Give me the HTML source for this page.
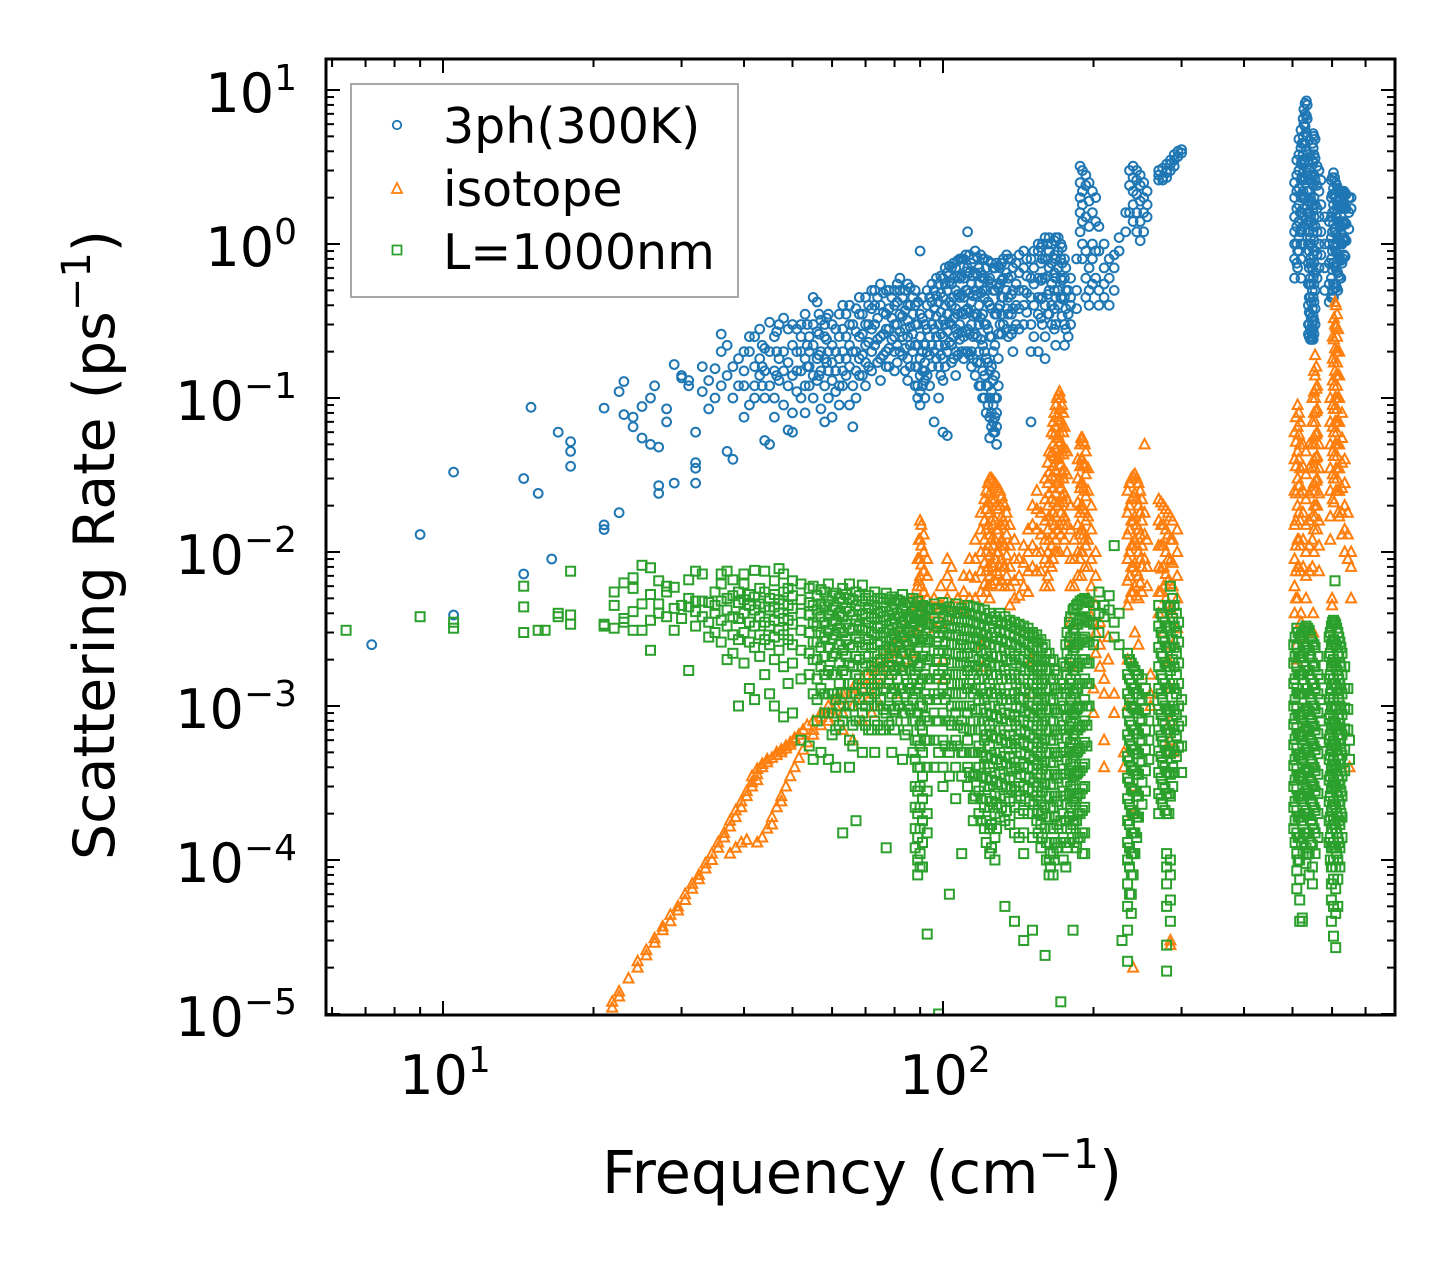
<!DOCTYPE html>
<html><head><meta charset="utf-8"><style>
html,body{margin:0;padding:0;background:#fff;}
svg{display:block;font-family:"DejaVu Sans","Liberation Sans",sans-serif;}
</style></head><body>
<svg id="chart" width="1455" height="1265" viewBox="0 0 1455 1265" xmlns="http://www.w3.org/2000/svg">
<defs><clipPath id="plotclip"><rect x="326" y="59" width="1069" height="956"/></clipPath></defs>
<rect x="0" y="0" width="1455" height="1265" fill="#fff"/>
<g id="marks" clip-path="url(#plotclip)"></g>
<g id="ticks"></g>
<rect x="326" y="59" width="1069" height="956" fill="none" stroke="#000" stroke-width="3"/>
<g id="ylabels" font-size="54" text-anchor="end"></g>
<g id="xlabels" font-size="54" text-anchor="middle"></g>
<text x="862" y="1193" font-size="59" text-anchor="middle">Frequency (cm<tspan font-size="41" dy="-25">−1</tspan><tspan dy="25">)</tspan></text>
<text transform="translate(114,545) rotate(-90)" font-size="57" text-anchor="middle">Scattering Rate (ps<tspan font-size="40" dy="-24">−1</tspan><tspan dy="24">)</tspan></text>
<g>
<rect x="351" y="84" width="387" height="213" fill="#fff" fill-opacity="0.8" stroke="#a8a8a8" stroke-width="2"/>
<g><circle cx="397" cy="125" r="4.2" fill="none" stroke="#1f77b4" stroke-width="1.8"/><text x="443" y="143" font-size="49">3ph(300K)</text></g>
<g><path d="M397,183 L402,193 L392,193 Z" fill="none" stroke="#ff7f0e" stroke-width="1.8"/><text x="443" y="206" font-size="49">isotope</text></g>
<g><rect x="392.5" y="245.5" width="9" height="9" fill="none" stroke="#2ca02c" stroke-width="1.8"/><text x="443" y="269" font-size="49">L=1000nm</text></g>
</g>
</svg>
<script>
const xTickValues = [10, 100];
const xTickExps = ["1", "2"];
const yTickExps = [1, 0, -1, -2, -3, -4, -5];
const yTickLabels = ["1", "0", "−1", "−2", "−3", "−4", "−5"];

const blueColumns = [
[7.2,[0.0025]],[9,[0.013]],[10.5,[0.033,0.0039]],[14.5,[0.0072,0.03]],[15,[0.087]],[15.5,[0.024]],[16.5,[0.009]],[17,[0.06]],[18,[0.052,0.045,0.036]],
[21,[0.086,0.015,0.014]],[22.5,[0.018,0.11]],[23,[0.128,0.078]],[24,[0.075,0.065]],[25,[0.088,0.055]],[26,[0.05,0.1]],[26.5,[0.12]],[27,[0.027,0.048,0.024]],
[28,[0.07,0.085]],[29,[0.028,0.165]],[30,[0.135,0.14]],[31,[0.13,0.12]],[32,[0.06,0.035,0.038,0.028]],[33,[0.11,0.16]],[34,[0.085,0.13]],[35,[0.155,0.1]],
[36,[0.12,0.26,0.2]],[37,[0.22,0.045,0.14]],[38,[0.04,0.16,0.1]],[39,[0.18,0.12]],[40,[0.12,0.075,0.2,0.15]],[41,[0.2,0.25,0.09]],[42,[0.25,0.16,0.12,0.1]],
[43,[0.28,0.18,0.14]],[44,[0.053,0.21,0.15,0.1]],[45,[0.05,0.31,0.2,0.12]],[46,[0.15,0.25,0.1,0.075]],[47,[0.18,0.3,0.13]],[48,[0.33,0.2,0.15,0.09]],
[49,[0.062,0.28,0.17,0.12]],[50,[0.06,0.22,0.3,0.14,0.08]],[52,[0.3,0.2,0.15,0.1,0.25]],[53,[0.08,0.35,0.18,0.12]],[54,[0.12,0.25,0.2,0.16]],
[55,[0.45,0.3,0.22,0.14,0.1]],[56,[0.42,0.27,0.18,0.13]],[57,[0.085,0.32,0.2,0.15]],[58,[0.07,0.25,0.18,0.12,0.3]],[59,[0.2,0.35,0.15,0.1]],
[60,[0.17,0.075,0.3,0.22,0.13]],[62,[0.35,0.25,0.18,0.12,0.09]],[63,[0.12,0.4,0.28,0.2,0.15]],[64,[0.25,0.35,0.18,0.14]],[65,[0.09,0.4,0.3,0.22,0.16]],
[66,[0.065,0.3,0.2,0.12]],[68,[0.18,0.45,0.35,0.25,0.14]],[70,[0.3,0.45,0.22,0.17,0.12]],[72,[0.15,0.5,0.38,0.28,0.2]],[73,[0.5,0.4,0.3,0.22]],
[75,[0.25,0.55,0.4,0.18,0.13]],[77,[0.35,0.5,0.28,0.2,0.16]],[80,[0.2,0.5,0.4,0.3,0.25,0.15]],[82,[0.5,0.6,0.35,0.27,0.2]],[85,[0.4,0.55,0.32,0.25,0.18,0.13]],
[88,[0.3,0.5,0.4,0.22,0.16,0.12]],[90,[0.9,0.35,0.25,0.18,0.14,0.11,0.09]],[92,[0.15,0.3,0.22,0.17,0.13,0.1]],[94,[0.25,0.45,0.35,0.19,0.12]],
[96,[0.07,0.5,0.38,0.28,0.2]],[98,[0.1,0.55,0.42,0.3,0.22,0.16]],[100,[0.06,0.6,0.45,0.32,0.25,0.18,0.13]],[102,[0.057,0.65,0.5,0.35,0.27,0.2]],
[104,[0.4,0.7,0.55,0.3,0.22,0.17]],[106,[0.7,0.5,0.38,0.28,0.2,0.14]],[108,[0.3,0.8,0.6,0.45,0.24]],[110,[0.8,0.6,0.45,0.35,0.25,0.18]],
[112,[1.2,0.7,0.5,0.38,0.28,0.2]],[114,[0.2,0.75,0.55,0.42,0.3,0.16]],[116,[0.9,0.65,0.5,0.35,0.26,0.14]],[118,[0.12,0.7,0.55,0.4,0.3,0.2]],
[120,[0.5,0.8,0.6,0.35,0.22,0.15,0.1]],[122,[0.08,0.7,0.5,0.3,0.18,0.12]],[124,[0.055,0.6,0.4,0.25,0.15,0.1,0.075]],[126,[0.06,0.7,0.5,0.2,0.13,0.09,0.07]],
[128,[0.05,0.75,0.55,0.35,0.1,0.08,0.065]],[130,[0.7,0.55,0.4,0.3]],[132,[0.3,0.8,0.6,0.45]],[135,[0.8,0.6,0.45,0.35,0.25]],[138,[0.7,0.5,0.38,0.28,0.2]],
[140,[0.4,0.75,0.55,0.3]],[145,[0.5,0.7,0.9,0.4,0.3]],[150,[0.07,0.8,0.6,0.45,0.3,0.2]],[152,[0.4,0.9,0.7,0.55,0.25]],[155,[0.6,0.9,1.0,0.45,0.35,0.2]],
[158,[0.8,1.0,0.6,0.45,0.3]],[160,[0.8,1.1,0.6,0.4,0.25,0.18]],[163,[0.9,1.1,0.7,0.5,0.35]],[165,[0.3,1.0,0.75,0.55,0.4]],[168,[1.1,0.8,0.6,0.45,0.3,0.22]],
[170,[1.1,0.9,0.7,0.5,0.4]],[172,[1.0,0.8,0.6,0.45]],[175,[0.3,0.8,0.6,0.45,0.22]],[178,[0.5,0.35,0.25]],[180,[0.6,0.4,0.3,0.45]],[185,[0.8,0.5,0.38]],
[188,[3.2,2.5,2.0,1.6,1.2]],[190,[3.0,2.2,1.8,1.4,1.0,0.8]],[193,[2.8,2.4,1.5,0.9,0.6,0.45]],[196,[2.5,1.9,1.3,0.7,0.5,0.4]],[199,[2.2,1.6,1.0,0.8,0.55]],
[202,[2.0,1.4,0.9,0.6]],[205,[1.3,0.9,0.5,0.4]],[210,[1.0,0.7,0.55,0.45]],[215,[0.8,0.6,0.4]],[220,[0.85,0.7,0.5]],[225,[1.1,0.9]],[232,[1.2,1.6]],
[236,[1.6,2.4,3.0]],[240,[3.2,2.7,2.2,1.8,1.4]],[244,[3.0,2.6,2.1,1.6,1.2]],[248,[2.8,2.4,1.9,1.4,1.05]],[252,[2.5,2.0,1.6,1.2]],[256,[2.2,1.8,1.5]],
[270,[2.6,3.0,2.8]],[275,[2.7,3.1,2.6]],[280,[2.9,3.3,2.7,3.0]],[285,[3.5,3.0,3.3]],[290,[3.5,3.8,3.2]],[295,[4.0,3.7]],[300,[4.1,3.9]],
[505,[2.5,2.0,1.5,1.2,1.0,0.8,0.6]],[510,[3.5,2.8,2.2,1.7,1.3,1.0,0.75]],[515,[4.8,3.8,3.0,2.3,1.8,1.4,1.1,0.9]],[520,[5.5,4.2,3.3,2.6,2.0,1.6,1.25,1.0,0.8,0.6]],
[525,[6.5,5.0,3.8,2.9,2.2,1.7,1.3,1.0]],[530,[8.2,7.0,5.8,4.5,3.5,2.7,2.0]],[535,[8.0,6.5,5.0,3.8,2.9,2.2,1.6]],
[540,[3.0,2.2,1.6,1.2,0.9,0.7,0.55,0.45,0.36,0.3,0.25]],[545,[2.6,1.9,1.4,1.0,0.75,0.55,0.42,0.33,0.27,0.24]],
[550,[5.2,4.2,3.4,2.4,1.7,1.2,0.85,0.6,0.45,0.34,0.28,0.24]],[555,[4.8,3.6,2.6,1.8,1.3,0.9,0.65,0.5,0.38,0.3]],[560,[3.2,2.4,1.7,1.2,0.85,0.6]],
[565,[3.0,2.2,1.5,1.0,0.7]],[570,[2.6,1.8,1.2,0.85]],[580,[1.5,1.0,0.7,0.5]],
[592,[1.4,1.0,0.75,0.55,0.42]],[598,[2.6,2.0,1.5,1.1,0.8,0.6,0.45]],[604,[2.9,2.3,1.8,1.35,1.0,0.75,0.55,0.45]],[610,[2.5,2.0,1.55,1.2,0.9,0.7,0.55]],
[616,[2.3,1.8,1.4,1.1,0.85,0.65,0.5]],[622,[2.2,1.75,1.35,1.05,0.8,0.6]],[628,[2.1,1.7,1.3,1.0,0.75]],[634,[2.2,1.8,1.4,1.1,0.85]],[640,[2.1,1.7,1.35,1.05]],
[648,[2.0,1.6,1.25]],[655,[2.0,1.7]]
];
const blueExtraColumns = [
[43.5,[0.22,0.16,0.12]],[46.5,[0.27,0.2,0.14]],[51,[0.28,0.2,0.15,0.11]],[53.5,[0.3,0.22,0.16]],[56.5,[0.35,0.26,0.19,0.14]],[58.5,[0.33,0.24,0.17]],
[61,[0.28,0.2,0.15,0.11]],[67,[0.38,0.27,0.2,0.15,0.1]],[69,[0.35,0.26,0.19,0.14]],[71,[0.4,0.3,0.23,0.16]],[74,[0.45,0.33,0.24,0.17]],[76,[0.48,0.36,0.26,0.19]],
[78,[0.5,0.38,0.28,0.21,0.16]],[79,[0.45,0.33,0.24]],[81,[0.55,0.42,0.3,0.22,0.17]],[83,[0.45,0.34,0.25,0.19]],[84,[0.5,0.37,0.28,0.21,0.15]],
[86,[0.52,0.4,0.29,0.22,0.16]],[87,[0.45,0.35,0.26,0.2]],[89,[0.42,0.3,0.22,0.16,0.12,0.1]],[91,[0.45,0.33,0.2,0.15,0.12]],[93,[0.5,0.4,0.28,0.2,0.14]],
[95,[0.55,0.42,0.3,0.22,0.16]],[97,[0.6,0.46,0.34,0.25,0.18]],[99,[0.62,0.48,0.36,0.26,0.19,0.14]],[101,[0.7,0.55,0.4,0.3,0.22,0.16]],
[103,[0.72,0.57,0.42,0.31,0.23]],[105,[0.75,0.6,0.45,0.33,0.25,0.18]],[107,[0.78,0.62,0.47,0.35,0.26,0.19]],[109,[0.8,0.62,0.47,0.36,0.27,0.2]],
[111,[0.85,0.66,0.5,0.37,0.27,0.2]],[113,[0.85,0.65,0.48,0.36,0.26,0.19]],[115,[0.8,0.62,0.46,0.34,0.25,0.18]],[117,[0.82,0.63,0.47,0.35,0.25,0.17]],
[119,[0.85,0.65,0.48,0.33,0.24,0.17,0.12]],[121,[0.8,0.6,0.45,0.3,0.2,0.14,0.1]],[123,[0.78,0.58,0.42,0.28,0.17,0.12,0.09]],
[125,[0.75,0.55,0.38,0.25,0.16,0.11,0.08,0.065]],[127,[0.7,0.5,0.35,0.22,0.14,0.1,0.075,0.06]],[129,[0.72,0.52,0.38,0.26,0.18,0.12]],
[131,[0.75,0.58,0.45,0.35,0.26]],[134,[0.85,0.65,0.5,0.38,0.28]],[137,[0.8,0.62,0.47,0.35,0.26]],[142,[0.85,0.65,0.5,0.38,0.28]],[147,[0.8,0.62,0.48,0.36]],
[157,[0.95,0.75,0.58,0.44,0.33]],[162,[1.0,0.8,0.62,0.47,0.35]],[167,[1.05,0.85,0.65,0.5,0.38,0.28]],[173,[0.95,0.75,0.58,0.44,0.34]],[176,[0.7,0.5,0.38,0.28]],
[512,[0.9,0.7]],[518,[1.6,1.2]],[522,[4.5,3.5,2.7,2.1,1.6,1.2]],[527,[7.5,6,4.5,3.4,2.6,2,1.5]],[533,[8.5,6.8,5.3,4.1,3.1]],
[538,[3.5,2.6,1.9,1.4,1.0,0.75,0.55,0.4,0.3,0.26]],[543,[2.8,2.0,1.5,1.1,0.8,0.6,0.45,0.35,0.28,0.24]],
[548,[4.5,3.5,2.5,1.8,1.3,0.95,0.7,0.5,0.38,0.3,0.25]],[552,[5,3.8,2.8,2.0,1.5,1.05,0.75,0.55,0.42,0.32,0.26]],
[601,[2.7,2.1,1.6,1.2,0.9,0.68,0.5]],[607,[2.7,2.1,1.65,1.25,0.95,0.72,0.52]],[613,[2.4,1.9,1.5,1.15,0.87,0.67,0.52]],[619,[2.25,1.78,1.38,1.07,0.82,0.62]],
[625,[2.15,1.72,1.32,1.02,0.78,0.6]],[631,[2.15,1.75,1.35,1.05,0.8]],[637,[2.15,1.75,1.37,1.07,0.83]]
];

const orangeColumns = [
[21.8,[1.2e-5,1.1e-5]],[22.5,[1.4e-5,1.3e-5]],[23.5,[1.7e-5]],[24.5,[2.2e-5,2.0e-5]],[25.5,[2.6e-5,2.4e-5]],[26.5,[3.1e-5,2.9e-5]],[27.5,[3.7e-5,3.5e-5]],
[28.5,[4.4e-5,4.0e-5]],[29.5,[5.0e-5,4.7e-5]],[30.5,[6.0e-5,5.5e-5]],[31.5,[7.0e-5,6.5e-5]],[32.5,[8.0e-5,7.5e-5]],[33.5,[9.5e-5,8.8e-5]],[34.5,[1.1e-4,1.0e-4]],
[35.5,[1.3e-4,1.2e-4]],[36.5,[1.5e-4,1.4e-4]],[37.5,[1.8e-4,1.65e-4,1.1e-4]],[38.5,[2.1e-4,1.9e-4,1.2e-4]],[39.5,[2.4e-4,2.2e-4,1.3e-4]],[40.5,[2.8e-4,2.6e-4,1.35e-4]],
[41.5,[3.2e-4,3.0e-4,3.5e-4]],[42.5,[3.6e-4,3.3e-4,3.9e-4,1.3e-4]],[43.5,[4.0e-4,4.2e-4,1.4e-4]],[44.5,[4.3e-4,4.5e-4,1.6e-4]],[45.5,[4.6e-4,1.9e-4,1.7e-4]],
[46.5,[4.8e-4,5e-4,2.2e-4]],[47.5,[5.0e-4,5.2e-4,2.6e-4,2.4e-4]],[48.5,[5.3e-4,5.5e-4,3.0e-4]],[49.5,[5.6e-4,5.8e-4,3.5e-4]],[50.5,[6e-4,6.2e-4,4.0e-4]],
[51.5,[6.5e-4,4.6e-4]],[52.5,[7e-4,5.2e-4]],[53.5,[7.5e-4,5.8e-4]],[55,[8e-4,6.5e-4,7e-4]],[57,[8.5e-4,7.5e-4,9e-4]],[59,[9e-4,8e-4,1.0e-3]],
[61,[1.0e-3,8.5e-4,1.1e-3]],[63,[1.1e-3,9e-4,1.2e-3,7e-4]],[66,[1.2e-3,1.0e-3,1.3e-3,6e-4]],[69,[1.3e-3,1.1e-3,1.5e-3,8e-4]],[72,[1.5e-3,1.2e-3,1.7e-3,9e-4]],
[75,[1.7e-3,1.4e-3,2.0e-3,1.0e-3]],[78,[1.9e-3,1.6e-3,2.3e-3]],[81,[2.2e-3,1.8e-3,2.8e-3,1.2e-3]],[84,[2.6e-3,3.2e-3,2.0e-3]],[87,[3.5e-3,5e-3,3e-3,2.2e-3]],
[89,[6e-3,9e-3,4.5e-3,3e-3]],[90,[0.016,0.012,0.009,0.007,0.005,0.0035]],[91.5,[0.013,0.01,0.0075,0.0055,0.004]],[93,[0.009,0.007,0.005,0.0037]],
[96,[0.004,0.005,0.0032]],[99,[0.006,0.0045,0.0035]],[102,[0.009,0.007,0.005,0.0038]],[104,[0.008,0.006,0.0045]],[107,[0.005,0.004]],[110,[0.007,0.0055,0.0042]],
[113,[0.009,0.007,0.005]],[116,[0.012,0.009,0.0068,0.005]],[119,[0.018,0.014,0.01,0.0075,0.0055]],[122,[0.025,0.019,0.014,0.01,0.0075,0.0055]],
[124,[0.03,0.024,0.018,0.013,0.0095,0.007,0.005]],[127,[0.028,0.022,0.016,0.012,0.009,0.0065]],[130,[0.025,0.02,0.015,0.011,0.008,0.006]],
[133,[0.02,0.015,0.011,0.008,0.006]],[136,[0.015,0.011,0.008,0.006,0.0045]],[139,[0.012,0.009,0.0065,0.005]],[142,[0.009,0.007,0.0052]],
[145,[0.011,0.0085,0.006]],[148,[0.014,0.01,0.0075,0.0055]],[151,[0.02,0.015,0.011,0.008]],[154,[0.025,0.019,0.014,0.01,0.0075]],[157,[0.018,0.013,0.01,0.0075]],
[160,[0.03,0.022,0.016,0.012,0.009,0.006]],[163,[0.045,0.033,0.024,0.017,0.012,0.0085,0.006]],[166,[0.07,0.05,0.036,0.026,0.018,0.013,0.009]],
[169,[0.1,0.075,0.055,0.04,0.028,0.02,0.014,0.01]],[171,[0.11,0.085,0.06,0.043,0.03,0.021,0.015,0.01]],[174,[0.08,0.06,0.043,0.03,0.021,0.015]],
[177,[0.045,0.032,0.022,0.015,0.01]],[180,[0.02,0.014,0.009,0.006]],[183,[0.012,0.009,0.006]],[186,[0.04,0.03,0.021,0.015,0.01,0.007]],
[189,[0.055,0.04,0.028,0.02,0.014,0.01,0.007]],[192,[0.05,0.036,0.025,0.018,0.012,0.008]],[195,[0.035,0.025,0.017,0.012,0.008,0.005]],
[198,[0.02,0.014,0.009,0.006,0.0038]],[202,[0.01,0.007,0.0045,0.003,0.0022]],[206,[0.0035,0.0025,0.0018]],[210,[0.0015,0.0012,0.0006,0.0004]],[214,[0.0028,0.002]],
[220,[0.0009,0.0012]],[230,[0.0005,0.0004]],
[234,[0.025,0.018,0.013,0.009,0.0065,0.0045,0.002,0.001]],[238,[0.03,0.022,0.016,0.011,0.008,0.0055]],[242,[0.032,0.024,0.017,0.012,0.0085,0.006,0.003]],
[246,[0.028,0.02,0.014,0.01,0.007,0.005,0.0025]],[250,[0.022,0.016,0.011,0.008,0.0055]],[253,[0.05,0.018,0.013,0.009]],[256,[0.012,0.008,0.006]],[240,[0.0003,0.0002,0.00002]],
[270,[0.022,0.016,0.011,0.008,0.0055,0.004]],[276,[0.02,0.015,0.011,0.008,0.006,0.003]],[282,[0.018,0.013,0.009,0.0065,0.0045,0.002]],
[288,[0.016,0.012,0.0085,0.006,0.004,0.0025,0.0005]],[294,[0.014,0.01,0.007,0.005,0.0032]],[285,[3e-5,2.8e-5]],
[100,[0.002,0.0015]],[120,[0.0025,0.0018]],[150,[0.002,0.0012]],[180,[0.0025,0.0035,0.0018]],[200,[0.0013,0.0009]],[260,[0.0016,0.0012,0.001]],[285,[0.0013,0.0008,0.0006]],
[505,[0.06,0.04,0.025,0.015,0.009,0.006,0.004]],[512,[0.09,0.065,0.045,0.03,0.02,0.012,0.008,0.005]],[518,[0.07,0.05,0.035,0.024,0.016,0.011,0.0075]],
[525,[0.05,0.036,0.025,0.018,0.012,0.008]],[532,[0.045,0.032,0.022,0.015,0.01,0.007,0.005]],[540,[0.05,0.035,0.024,0.016,0.011,0.0075]],
[548,[0.1,0.07,0.05,0.035,0.025,0.017,0.012,0.008]],[555,[0.19,0.14,0.1,0.07,0.05,0.035,0.025,0.017]],[560,[0.12,0.085,0.06,0.042,0.03,0.02,0.014]],
[565,[0.05,0.035,0.024,0.016,0.011,0.0075]],[520,[0.004,0.0035,0.0028]],[510,[0.002,0.0025]],[550,[0.003,0.004]],
[595,[0.1,0.07,0.05,0.035,0.025,0.017,0.012]],[602,[0.25,0.18,0.13,0.09,0.065,0.045,0.032,0.022]],[608,[0.42,0.3,0.21,0.15,0.1,0.07,0.05]],
[614,[0.35,0.25,0.17,0.12,0.085,0.06,0.042,0.03]],[620,[0.2,0.14,0.1,0.07,0.05,0.035,0.025,0.017]],[628,[0.08,0.055,0.038,0.026,0.018,0.013]],
[636,[0.04,0.028,0.02,0.014,0.01]],[645,[0.018,0.013,0.009]],[655,[0.01,0.008,0.005]],[650,[0.0004]],[600,[0.005,0.0045]]
];
const orangeExtraColumns = [
[89.5,[0.012,0.009,0.0065,0.0048]],[90.5,[0.015,0.011,0.0083,0.006,0.0045]],
[121,[0.022,0.016,0.012,0.0085,0.0062]],[123,[0.028,0.021,0.015,0.011,0.008,0.006]],[125,[0.03,0.022,0.016,0.012,0.0085,0.0062]],[126,[0.029,0.021,0.015,0.011,0.008]],
[128,[0.027,0.02,0.014,0.01,0.0075]],[129,[0.026,0.019,0.014,0.01,0.0072]],[131,[0.023,0.017,0.012,0.009,0.0065]],[132,[0.021,0.016,0.011,0.008]],[134,[0.018,0.013,0.0095,0.007]],
[162,[0.038,0.028,0.02,0.014,0.01,0.007]],[165,[0.06,0.044,0.031,0.022,0.016,0.011,0.008]],[167,[0.08,0.058,0.042,0.03,0.021,0.015,0.01]],
[168,[0.09,0.065,0.047,0.034,0.024,0.017,0.012]],[170,[0.105,0.078,0.057,0.041,0.029,0.02,0.014]],[172,[0.1,0.072,0.052,0.037,0.026,0.018,0.013]],
[173,[0.09,0.065,0.047,0.033,0.023,0.016]],[175,[0.065,0.047,0.034,0.024,0.017,0.012]],[188,[0.05,0.036,0.026,0.018,0.013,0.009]],
[190,[0.055,0.04,0.028,0.02,0.014,0.01]],[191,[0.052,0.037,0.026,0.019,0.013]],[193,[0.045,0.032,0.023,0.016,0.011]],
[236,[0.028,0.02,0.014,0.01,0.007,0.005]],[240,[0.031,0.023,0.016,0.011,0.008,0.0055]],[244,[0.03,0.022,0.015,0.011,0.0075,0.0052]],[248,[0.025,0.018,0.013,0.009,0.0063]],
[273,[0.021,0.015,0.011,0.0078,0.0055]],[279,[0.019,0.014,0.01,0.0072,0.005]],[285,[0.017,0.012,0.0088,0.0062,0.0043]],
[508,[0.075,0.052,0.036,0.024,0.016,0.011,0.0075,0.005]],[515,[0.08,0.058,0.04,0.027,0.018,0.012,0.008]],
[552,[0.15,0.11,0.08,0.056,0.04,0.028,0.02,0.014,0.01]],[558,[0.16,0.115,0.082,0.058,0.041,0.029,0.02]],
[605,[0.33,0.24,0.17,0.12,0.085,0.06,0.042,0.03,0.021]],[611,[0.4,0.29,0.2,0.14,0.1,0.07,0.05,0.035,0.025]],[617,[0.28,0.2,0.14,0.1,0.07,0.05,0.035,0.025,0.018]]
];

const greenColumns = [
[6.4,[0.0031]],[9,[0.0038]],[10.5,[0.0035,0.0032]],[14.5,[0.006,0.0044,0.003]],[15.5,[0.0031]],[16,[0.0031]],[17,[0.004,0.0038]],[18,[0.0075,0.0039,0.0034]],
[21,[0.0034,0.0033]],[22,[0.0032,0.0045,0.0055]],[23,[0.0063,0.0035,0.0037]],[24,[0.0068,0.0058,0.0041,0.0031]],[25,[0.0082,0.0046,0.0031]],
[26,[0.0079,0.0053,0.0036,0.0023]],[27,[0.0065,0.0046,0.004]],[28,[0.006,0.0055,0.0038]],[29,[0.0059,0.0043,0.0031]],[30,[0.0045,0.0037]],
[31,[0.0066,0.005,0.0044,0.0017]],[32,[0.0075,0.0048,0.0041,0.0033]],[33,[0.0072,0.0048,0.0038]],[34,[0.0047,0.0035,0.0028]],[35,[0.0055,0.0045,0.004,0.003]],
[36,[0.0072,0.0062,0.0048,0.0036,0.0026]],[37,[0.0075,0.005,0.0042,0.0033,0.002]],[38,[0.0066,0.0052,0.0038,0.0029,0.0022]],[39,[0.0055,0.0047,0.0037,0.0027,0.001]],
[40,[0.0072,0.0062,0.0049,0.004,0.003,0.0019]],[41,[0.0053,0.0045,0.0035,0.0026,0.0013]],[42,[0.0076,0.0051,0.0042,0.0033,0.0024,0.0011]],
[43,[0.0058,0.0046,0.0038,0.0029,0.0021]],[44,[0.0075,0.0055,0.0044,0.0035,0.0027,0.0016]],[45,[0.005,0.0042,0.0033,0.0025,0.0012]],
[46,[0.0065,0.0053,0.0044,0.0036,0.0028,0.002,0.001]],[47,[0.0078,0.0049,0.004,0.0031,0.0023]],[48,[0.0072,0.0055,0.0046,0.0037,0.0029,0.0018,0.00085]],
[49,[0.0058,0.0045,0.0036,0.0027,0.0014]],[50,[0.0065,0.0052,0.0043,0.0034,0.0025,0.0019,0.0009]],[52,[0.0062,0.0049,0.004,0.0031,0.0023,0.0015,0.0006]],
[54,[0.0058,0.0047,0.0039,0.003,0.0022,0.0016,0.00055]],[55,[0.006,0.0045,0.0035,0.0026,0.002,0.0012,0.00045]],
[57,[0.0057,0.0046,0.0038,0.003,0.0024,0.0018,0.0013,0.0005]],[59,[0.0062,0.0048,0.0039,0.0031,0.0024,0.0017,0.0012,0.0009,0.00045]],
[61,[0.0054,0.0044,0.0036,0.0029,0.0022,0.0016,0.0011,0.0007,0.0004]],[63,[0.0058,0.0047,0.0038,0.003,0.0023,0.0017,0.0012,0.0008,0.00015]],
[65,[0.0062,0.005,0.0041,0.0032,0.0025,0.0019,0.0014,0.001,0.0006,0.0004]],[67,[0.0055,0.0045,0.0036,0.0028,0.0021,0.0016,0.0012,0.0008,0.00018]],
[69,[0.0061,0.0048,0.0039,0.0031,0.0024,0.0018,0.0013,0.0009,0.0005]],[71,[0.0052,0.0043,0.0035,0.0027,0.0021,0.0016,0.0011,0.0007]],
[73,[0.0055,0.0045,0.0037,0.0029,0.0022,0.0017,0.0012,0.0008,0.0005]],[75,[0.005,0.0041,0.0033,0.0026,0.002,0.0015,0.0011,0.0007]],
[77,[0.0054,0.0044,0.0036,0.0028,0.0022,0.0017,0.0013,0.0009,0.00012]],[79,[0.0051,0.0042,0.0034,0.0027,0.0021,0.0016,0.0012,0.0008,0.0005]],
[81,[0.0049,0.004,0.0032,0.0026,0.002,0.0015,0.0011,0.0008]],[83,[0.0053,0.0043,0.0035,0.0028,0.0022,0.0017,0.0013,0.0009,0.00045]],
[85,[0.0047,0.0038,0.0031,0.0025,0.0019,0.0014,0.001,0.0007]],[87,[0.005,0.0041,0.0033,0.0026,0.002,0.0015,0.0011,0.0008,0.0005]],
[89,[0.0048,0.0039,0.0031,0.0024,0.0018,0.0013,0.0009,0.0006,0.0004,0.00028,0.0002,0.00014,0.0001,0.00008]],
[91,[0.0045,0.0036,0.0028,0.0021,0.0015,0.001,0.0007,0.0005,0.00035,0.00025,0.00018,0.00013,0.00009]],
[93,[0.0042,0.0034,0.0027,0.002,0.0015,0.0011,0.0008,0.0006,0.0004,0.00028,0.0002,0.00015,0.000033]],
[96,[0.0046,0.0037,0.003,0.0023,0.0017,0.0012,0.0009,0.0006,0.0004]],[98,[0.0043,0.0035,0.0028,0.0022,0.0016,0.0012,0.0008,0.0005,0.00001]],
[100,[0.0047,0.0038,0.003,0.0023,0.0017,0.0013,0.0009,0.0006,0.0004,0.0003]],[103,[0.0044,0.0036,0.0029,0.0022,0.0016,0.0012,0.0008,0.0005,0.00035,0.00006]],
[106,[0.0046,0.0037,0.0029,0.0022,0.0016,0.0012,0.0009,0.0006,0.0004,0.00025]],[109,[0.0043,0.0035,0.0027,0.0021,0.0016,0.0012,0.0008,0.0005,0.00035,0.00011]],
[112,[0.0045,0.0036,0.0028,0.0022,0.0017,0.0013,0.0009,0.0006,0.0004,0.0003]],[115,[0.0044,0.0035,0.0028,0.0021,0.0016,0.0012,0.0008,0.0005,0.00035,0.00025,0.00018]],
[118,[0.0043,0.0034,0.0027,0.002,0.0015,0.0011,0.0008,0.00055,0.0004,0.00028,0.0002]],[121,[0.0042,0.0033,0.0026,0.002,0.0015,0.0011,0.0008,0.0006,0.00042,0.0003,0.00022,0.00016]],
[124,[0.004,0.0032,0.0025,0.0019,0.0014,0.001,0.00075,0.00055,0.0004,0.0003,0.00022,0.00016,0.00011]],
[127,[0.0038,0.003,0.0024,0.0018,0.0013,0.001,0.0007,0.0005,0.00037,0.00027,0.0002,0.00014,0.0001]],
[130,[0.004,0.0031,0.0024,0.0018,0.0013,0.00095,0.0007,0.0005,0.00036,0.00026,0.00019]],
[133,[0.0038,0.003,0.0023,0.0017,0.0012,0.0009,0.00065,0.00047,0.00034,0.00025,0.00018,0.00005]],
[136,[0.0036,0.0029,0.0022,0.0016,0.0012,0.00088,0.00064,0.00046,0.00033,0.00024,0.00017]],
[139,[0.0035,0.0028,0.0021,0.0016,0.0012,0.00085,0.0006,0.00043,0.0003,0.00022,0.00015,0.00004]],
[142,[0.0034,0.0027,0.002,0.0015,0.0011,0.0008,0.00057,0.0004,0.00028,0.0002,0.00014]],
[145,[0.0033,0.0026,0.002,0.0015,0.0011,0.0008,0.00058,0.00042,0.0003,0.00021,0.00015,0.00011,0.00003]],
[148,[0.0032,0.0025,0.0019,0.0014,0.001,0.00075,0.00055,0.0004,0.00029,0.0002]],
[151,[0.003,0.0024,0.0018,0.0014,0.001,0.00075,0.00054,0.00039,0.00028,0.0002,0.00014,0.000035]],
[154,[0.0029,0.0023,0.0017,0.0013,0.00095,0.0007,0.0005,0.00036,0.00026,0.00018]],
[157,[0.0027,0.0021,0.0016,0.0012,0.0009,0.00065,0.00047,0.00034,0.00024,0.00017,0.00012]],
[160,[0.0025,0.002,0.0015,0.0011,0.0008,0.0006,0.00043,0.00031,0.00022,0.00016,0.000024]],
[163,[0.0022,0.0017,0.0013,0.00095,0.0007,0.0005,0.00036,0.00026,0.00019,0.00013,0.0001,0.00008]],
[166,[0.002,0.0015,0.0011,0.0008,0.0006,0.00043,0.00031,0.00022,0.00016,0.00011,0.00008]],
[169,[0.0016,0.0012,0.0009,0.00065,0.00047,0.00034,0.00024,0.00017,0.00012]],[172,[0.0013,0.00095,0.0007,0.0005,0.00036,0.00026,0.00018,0.00013,0.000012]],
[176,[0.0025,0.0018,0.0013,0.00095,0.0007,0.0005,0.00036,0.00026,0.00018,0.00013,0.00009]],
[179,[0.0035,0.0026,0.0019,0.0014,0.001,0.00073,0.00053,0.00038,0.00027,0.00019,0.00013]],
[182,[0.0042,0.0031,0.0023,0.0017,0.0012,0.00088,0.00064,0.00046,0.00033,0.00024,0.00017,0.000035]],
[185,[0.0045,0.0034,0.0025,0.0018,0.0013,0.00095,0.0007,0.0005,0.00036,0.00026,0.00018,0.00012]],
[188,[0.0048,0.0036,0.0026,0.0019,0.0014,0.001,0.00073,0.00053,0.00038,0.00027,0.0002,0.00014]],
[192,[0.005,0.0038,0.0028,0.002,0.0015,0.0011,0.0008,0.00058,0.00042,0.0003,0.00022,0.00015,0.00011]],
[196,[0.0047,0.0035,0.0026,0.0019,0.0014,0.001]],[200,[0.0045,0.0034,0.0025]],[205,[0.0055,0.004,0.003]],[210,[0.0045,0.0038]],[215,[0.0052,0.0042]],
[220,[0.011,0.0035,0.0028]],[225,[0.004,0.0025]],[228,[0.00003]],
[234,[0.0022,0.0016,0.0012,0.0009,0.00065,0.00047,0.00034,0.00025,0.00018,0.00013,0.0001,0.00007,0.00005,0.000035,0.000022]],
[238,[0.0019,0.0014,0.001,0.00075,0.00055,0.0004,0.00029,0.00021,0.00015,0.00011,0.00008,0.00006,0.000045]],
[242,[0.0017,0.0013,0.00095,0.0007,0.00052,0.00038,0.00028,0.0002,0.00015,0.00011]],[246,[0.0016,0.0012,0.0009,0.00066,0.00049,0.00036,0.00026,0.00019]],
[250,[0.0015,0.0011,0.00082,0.0006,0.00044,0.00032,0.00023]],[254,[0.0013,0.00095,0.0007,0.00052,0.00038,0.00028]],[258,[0.0011,0.0008,0.0006,0.00045]],
[270,[0.0045,0.0033,0.0024,0.0018,0.0013,0.00095,0.0007,0.00051,0.00037,0.00027,0.0002]],
[275,[0.0038,0.0028,0.0021,0.0015,0.0011,0.0008,0.00059,0.00043,0.00031,0.00023]],
[280,[0.0033,0.0024,0.0018,0.0013,0.00095,0.0007,0.0005,0.00037,0.00027,0.0002,0.00011,0.00009,0.00007,0.00005,0.000028,0.000019]],
[285,[0.006,0.0044,0.0032,0.0024,0.0017,0.0013,0.00092,0.00067,0.00049,0.00036,0.00026,0.0001,0.00008,0.000055,0.00004]],
[290,[0.0045,0.0033,0.0024,0.0018,0.0013,0.00095,0.0007,0.00051,0.00037]],[296,[0.0035,0.0026,0.0019,0.0014,0.001,0.00074,0.00054]],[300,[0.0011,0.0008,0.00055,0.00037]],
[503,[0.0025,0.0019,0.0014,0.001,0.00076,0.00056,0.00041,0.0003,0.00022,0.00016]],
[510,[0.0032,0.0024,0.0018,0.0013,0.00097,0.00072,0.00053,0.00039,0.00029,0.00021,0.00015,0.00011,0.000085,0.000065]],
[517,[0.0028,0.0021,0.0016,0.0012,0.00088,0.00065,0.00048,0.00035,0.00026,0.00019,0.00014,0.0001,0.000075,0.000055,0.00004]],
[525,[0.003,0.0022,0.0016,0.0012,0.00088,0.00065,0.00048,0.00035,0.00026,0.00019,0.00014,0.00011]],
[532,[0.0033,0.0024,0.0018,0.0013,0.00097,0.00072,0.00053,0.00039,0.00029,0.00021,0.00015,0.00012,0.000095]],
[540,[0.0031,0.0023,0.0017,0.0012,0.00092,0.00068,0.0005,0.00037,0.00027,0.0002,0.00015,0.00011,0.00008]],
[548,[0.0026,0.0019,0.0014,0.001,0.00077,0.00057,0.00042,0.00031,0.00023,0.00017,0.000125,0.00009,0.00007]],
[555,[0.0024,0.0018,0.0013,0.00096,0.0007,0.00052,0.00038,0.00028,0.00021,0.00015,0.00011]],
[562,[0.0021,0.0016,0.0012,0.0009,0.00066,0.00049,0.00036,0.00027,0.0002,0.00014]],[570,[0.0015,0.0011,0.0008,0.00058]],[523,[0.00004,0.000042]],
[592,[0.0028,0.0021,0.0015,0.0011,0.00083,0.00061,0.00045,0.00033,0.00024,0.00018,0.00013]],
[598,[0.0033,0.0025,0.0018,0.0013,0.00098,0.00072,0.00053,0.00039,0.00029,0.00021,0.00016,0.00012,0.00009,0.00007,0.000055,0.00004]],
[604,[0.0036,0.0027,0.002,0.0015,0.0011,0.0008,0.00059,0.00044,0.00032,0.00024,0.00018,0.00013,0.0001,0.000075,0.00005,0.000032]],
[610,[0.0034,0.0025,0.0019,0.0014,0.001,0.00076,0.00056,0.00041,0.0003,0.00022,0.00016,0.00012,0.00009,0.000065,0.000045,0.000027]],
[616,[0.003,0.0022,0.0016,0.0012,0.00088,0.00065,0.00048,0.00035,0.00026,0.00019,0.00014,0.0001,0.000075,0.00005]],
[622,[0.0026,0.0019,0.0014,0.001,0.00077,0.00057,0.00042,0.00031,0.00023,0.00017,0.00012,0.00009]],
[628,[0.0022,0.0016,0.0012,0.00088,0.00065,0.00048,0.00035,0.00026,0.00019,0.00014]],[636,[0.0018,0.0013,0.00097,0.00071,0.00052,0.00038]],
[645,[0.0013,0.00095,0.0007]],[650,[0.00045,0.0006]],[608,[0.0065]]
];
const greenExtraColumns = [
[56,[0.0052,0.0042,0.0033,0.0026,0.002,0.0015,0.0011,0.0008]],[58,[0.0055,0.0044,0.0035,0.0028,0.0021,0.0016,0.0012,0.0009]],
[60,[0.0052,0.0042,0.0034,0.0027,0.0021,0.0016,0.0012,0.0009,0.00065]],[62,[0.005,0.004,0.0032,0.0025,0.0019,0.0014,0.001,0.00075]],
[64,[0.0053,0.0043,0.0034,0.0027,0.0021,0.0016,0.0012,0.0009]],[66,[0.0049,0.0039,0.0031,0.0024,0.0018,0.0014,0.001,0.00075,0.00055]],
[68,[0.0052,0.0042,0.0033,0.0026,0.002,0.0015,0.0011,0.0008]],[70,[0.005,0.004,0.0032,0.0025,0.0019,0.0014,0.001,0.00075]],
[72,[0.0048,0.0038,0.003,0.0024,0.0018,0.0013,0.001,0.0007]],[74,[0.005,0.004,0.0032,0.0025,0.0019,0.0014,0.001,0.00075]],
[76,[0.0047,0.0038,0.003,0.0023,0.0018,0.0013,0.00095,0.0007]],[78,[0.0049,0.0039,0.0031,0.0024,0.0018,0.0014,0.001,0.00075]],
[80,[0.0046,0.0037,0.0029,0.0023,0.0017,0.0013,0.00095,0.0007]],[82,[0.0048,0.0038,0.003,0.0024,0.0018,0.0013,0.001]],
[84,[0.0045,0.0036,0.0028,0.0022,0.0017,0.0012,0.0009,0.00065]],[86,[0.0047,0.0037,0.003,0.0023,0.0017,0.0013,0.00095]],
[88,[0.0044,0.0035,0.0027,0.0021,0.0016,0.0012,0.0008,0.0006,0.00045,0.0003,0.00022,0.00016,0.00012]],
[90,[0.0042,0.0033,0.0026,0.0019,0.0014,0.001,0.00075,0.00055,0.0004,0.0003,0.00022,0.00016,0.00011,0.00009]],
[92,[0.0044,0.0035,0.0027,0.0021,0.0016,0.0012,0.00085,0.0006]],[94,[0.0043,0.0034,0.0026,0.002,0.0015,0.0011,0.0008,0.0006]],
[97,[0.0042,0.0033,0.0026,0.002,0.0015,0.0011,0.0008]],[101,[0.0042,0.0033,0.0026,0.002,0.0015,0.0011,0.0008,0.00055]],
[104,[0.0041,0.0032,0.0025,0.0019,0.0014,0.001,0.00075,0.00055]],[107,[0.004,0.0032,0.0025,0.0019,0.0014,0.001,0.00075,0.00055]],
[110,[0.0041,0.0032,0.0025,0.0019,0.0014,0.001,0.00072,0.0005]],[113,[0.004,0.0031,0.0024,0.0018,0.0014,0.001,0.0007,0.0005,0.00037]],
[116,[0.0039,0.003,0.0024,0.0018,0.0013,0.00095,0.0007,0.0005,0.00036,0.00026]],[119,[0.0038,0.003,0.0023,0.0017,0.0013,0.00095,0.0007,0.0005,0.00035,0.00025,0.00018]],
[122,[0.0037,0.0029,0.0022,0.0017,0.0012,0.0009,0.00065,0.00047,0.00034,0.00025,0.00018,0.00013]],
[125,[0.0036,0.0028,0.0021,0.0016,0.0012,0.00088,0.00064,0.00046,0.00033,0.00024,0.00017,0.00012]],
[128,[0.0036,0.0028,0.0021,0.0016,0.0012,0.00085,0.00062,0.00045,0.00032,0.00023,0.00016]],
[131,[0.0035,0.0027,0.0021,0.0015,0.0011,0.00083,0.0006,0.00043,0.00031,0.00022]],[134,[0.0034,0.0026,0.002,0.0015,0.0011,0.0008,0.00058,0.00042,0.0003,0.00021]],
[137,[0.0033,0.0026,0.002,0.0015,0.0011,0.0008,0.00057,0.0004,0.00029]],[140,[0.0032,0.0025,0.0019,0.0014,0.001,0.00075,0.00054,0.00039,0.00028]],
[143,[0.0031,0.0024,0.0018,0.0013,0.00097,0.0007,0.0005,0.00036,0.00026]],[146,[0.003,0.0023,0.0017,0.0013,0.00093,0.00068,0.00049,0.00035,0.00025]],
[149,[0.0029,0.0022,0.0017,0.0012,0.0009,0.00065,0.00047,0.00034,0.00024]],[152,[0.0028,0.0021,0.0016,0.0012,0.00085,0.00062,0.00045,0.00032,0.00023]],
[155,[0.0026,0.002,0.0015,0.0011,0.0008,0.00058,0.00042,0.0003,0.00021,0.00015]],[158,[0.0024,0.0018,0.0014,0.001,0.00075,0.00054,0.00039,0.00028,0.0002,0.00014]],
[161,[0.0022,0.0017,0.0013,0.00095,0.0007,0.0005,0.00036,0.00026,0.00019,0.00013,0.0001]],
[164,[0.002,0.0015,0.0011,0.0008,0.0006,0.00043,0.00031,0.00022,0.00016,0.00011,0.00009]],
[167,[0.0017,0.0013,0.00095,0.0007,0.0005,0.00036,0.00026,0.00019,0.00013,0.0001]],
[174,[0.0019,0.0014,0.001,0.00075,0.00054,0.00039,0.00028,0.0002,0.00014,0.0001]],
[177,[0.003,0.0022,0.0016,0.0012,0.00085,0.00062,0.00045,0.00032,0.00023,0.00016,0.00012]],
[180,[0.0038,0.0028,0.002,0.0015,0.0011,0.0008,0.00058,0.00042,0.0003,0.00022,0.00016]],
[183,[0.0043,0.0032,0.0024,0.0017,0.0012,0.0009,0.00066,0.00048,0.00035,0.00025,0.00018,0.00013]],
[186,[0.0046,0.0034,0.0025,0.0018,0.0013,0.00097,0.0007,0.00051,0.00037,0.00027,0.0002,0.00014]],
[190,[0.0049,0.0037,0.0027,0.002,0.0014,0.001,0.00075,0.00055,0.0004,0.00029,0.00021,0.00015,0.00011]],
[194,[0.0048,0.0036,0.0026,0.0019,0.0014,0.001,0.00075,0.00055]],
[236,[0.002,0.0015,0.0011,0.0008,0.0006,0.00044,0.00032,0.00023,0.00017,0.00012,0.00009,0.00006]],
[240,[0.0018,0.0013,0.00097,0.0007,0.00052,0.00038,0.00028,0.0002,0.00015,0.00011,0.00008]],
[244,[0.0016,0.0012,0.0009,0.00066,0.00049,0.00036,0.00026,0.00019,0.00014]],
[273,[0.004,0.003,0.0022,0.0016,0.0012,0.00088,0.00064,0.00047,0.00034,0.00025]],[278,[0.0035,0.0026,0.0019,0.0014,0.001,0.00075,0.00055,0.0004,0.00029,0.00021]],
[283,[0.0045,0.0033,0.0024,0.0018,0.0013,0.00095,0.0007,0.00051,0.00037,0.00027,0.0002]],[288,[0.005,0.0037,0.0027,0.002,0.0014,0.001,0.00075,0.00055,0.0004,0.0003]],
[293,[0.004,0.003,0.0022,0.0016,0.0012,0.00088,0.00064,0.00047]],
[506,[0.0028,0.0021,0.0015,0.0011,0.00083,0.00061,0.00045,0.00033,0.00024,0.00018,0.00013]],
[513,[0.003,0.0022,0.0016,0.0012,0.00088,0.00065,0.00048,0.00035,0.00026,0.00019,0.00014,0.0001]],
[521,[0.0029,0.0021,0.0016,0.0012,0.00085,0.00063,0.00046,0.00034,0.00025,0.00018,0.00013]],
[528,[0.0031,0.0023,0.0017,0.0012,0.00092,0.00068,0.0005,0.00037,0.00027,0.0002,0.00015]],
[536,[0.0032,0.0024,0.0017,0.0013,0.00095,0.0007,0.00052,0.00038,0.00028,0.0002,0.00015,0.00011]],
[544,[0.0028,0.0021,0.0015,0.0011,0.00083,0.00061,0.00045,0.00033,0.00024,0.00018,0.00013]],
[552,[0.0025,0.0018,0.0014,0.001,0.00074,0.00055,0.0004,0.0003,0.00022,0.00016]],
[595,[0.003,0.0022,0.0016,0.0012,0.00088,0.00065,0.00048,0.00035,0.00026,0.00019,0.00014,0.0001]],
[601,[0.0035,0.0026,0.0019,0.0014,0.001,0.00076,0.00056,0.00041,0.0003,0.00022,0.00016,0.00012,0.00009]],
[607,[0.0035,0.0026,0.0019,0.0014,0.001,0.00078,0.00057,0.00042,0.00031,0.00023,0.00017,0.00012]],
[613,[0.0032,0.0024,0.0017,0.0013,0.00095,0.0007,0.00052,0.00038,0.00028,0.0002,0.00015,0.00011]],
[619,[0.0028,0.0021,0.0015,0.0011,0.00083,0.00061,0.00045,0.00033,0.00024,0.00018,0.00013]],
[625,[0.0024,0.0018,0.0013,0.00096,0.0007,0.00052,0.00038,0.00028,0.0002]]
];

const NS = "http://www.w3.org/2000/svg";
function xScale(f){ return 443 + (Math.log10(f) - 1) * 500; }
function yScale(v){ return 90 + (1 - Math.log10(v)) * 154; }
const marks = document.getElementById('marks');
const ticks = document.getElementById('ticks');

function drawSeries(cols, kind, color, name){
  const g = document.createElementNS(NS, 'g');
  
  
  g.setAttribute('fill', 'none');
  g.setAttribute('stroke', color);
  g.setAttribute('stroke-width', '2');
  cols.forEach(function(col){
    col[1].forEach(function(v){
      const cx = xScale(col[0]), cy = yScale(v);
      let el;
      if (kind === 'circle') {
        el = document.createElementNS(NS, 'circle');
        el.setAttribute('cx', cx.toFixed(1)); el.setAttribute('cy', cy.toFixed(1)); el.setAttribute('r', '4.4');
      } else if (kind === 'tri') {
        el = document.createElementNS(NS, 'path');
        el.setAttribute('d', 'M' + cx.toFixed(1) + ',' + (cy - 5.5).toFixed(1) + ' l5,9.5 l-10,0 Z');
      } else {
        el = document.createElementNS(NS, 'rect');
        el.setAttribute('x', (cx - 4.5).toFixed(1)); el.setAttribute('y', (cy - 4.5).toFixed(1));
        el.setAttribute('width', '9'); el.setAttribute('height', '9');
      }
      
      
      g.appendChild(el);
    });
  });
  marks.appendChild(g);
}
drawSeries(blueColumns.concat(blueExtraColumns), 'circle', '#1f77b4', 'series-3ph');
drawSeries(orangeColumns.concat(orangeExtraColumns), 'tri', '#ff7f0e', 'series-isotope');
drawSeries(greenColumns.concat(greenExtraColumns), 'square', '#2ca02c', 'series-boundary');

function line(x1,y1,x2,y2,w){
  const l = document.createElementNS(NS, 'line');
  l.setAttribute('x1', x1); l.setAttribute('y1', y1); l.setAttribute('x2', x2); l.setAttribute('y2', y2);
  l.setAttribute('stroke', '#000'); l.setAttribute('stroke-width', w);
  
  
  ticks.appendChild(l);
}
for (let d = 0; d <= 2; d++) {
  for (let m = 1; m <= 9; m++) {
    const f = m * Math.pow(10, d);
    const x = xScale(f);
    if (x < 327 || x > 1394) continue;
    const len = (m === 1) ? 14 : 8;
    line(x, 1015, x, 1015 - len, 2); line(x, 59, x, 59 + len, 2);
  }
}
for (let d = -6; d <= 1; d++) {
  for (let m = 1; m <= 9; m++) {
    const v = m * Math.pow(10, d);
    const y = yScale(v);
    if (y < 60 || y > 1014.5) continue;
    const len = (m === 1) ? 14 : 8;
    line(326, y, 326 + len, y, 2); line(1395, y, 1395 - len, y, 2);
  }
}
const xl = document.getElementById('xlabels');
xTickValues.forEach(function(f, i){
  const t = document.createElementNS(NS, 'text');
  t.setAttribute('x', (xScale(f) + 2).toFixed(1)); t.setAttribute('y', '1094');
  
  
  t.innerHTML = '10<tspan font-size="36" dy="-22">' + xTickExps[i] + '</tspan>';
  xl.appendChild(t);
});
const yl = document.getElementById('ylabels');
yTickExps.forEach(function(e, i){
  const t = document.createElementNS(NS, 'text');
  t.setAttribute('x', '297'); t.setAttribute('y', (yScale(Math.pow(10, e)) + 22).toFixed(1));
  
  
  t.innerHTML = '10<tspan font-size="36" dy="-22">' + yTickLabels[i] + '</tspan>';
  yl.appendChild(t);
});
</script>
</body></html>
